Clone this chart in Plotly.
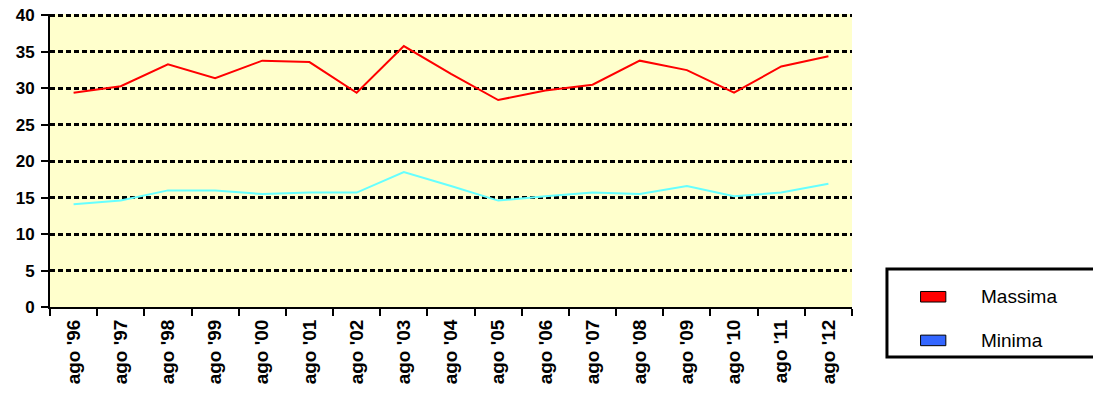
import plotly.graph_objects as go

categories = ["ago '96", "ago '97", "ago '98", "ago '99", "ago '00", "ago '01", "ago '02",
              "ago '03", "ago '04", "ago '05", "ago '06", "ago '07", "ago '08", "ago '09",
              "ago '10", "ago '11", "ago '12"]
massima = [29.4, 30.3, 33.3, 31.4, 33.8, 33.6, 29.4, 35.8, 32.0, 28.4, 29.7,
           30.5, 33.8, 32.5, 29.4, 33.0, 34.4]
minima = [14.1, 14.6, 16.0, 16.0, 15.5, 15.7, 15.7, 18.5, 16.6, 14.6, 15.2,
          15.7, 15.5, 16.6, 15.2, 15.7, 16.9]
y_ticks = [0, 5, 10, 15, 20, 25, 30, 35, 40]
legend_names = ["Massima", "Minima"]
legend_colors = ["#FF0000", "#3366FF"]

fig = go.Figure()
fig.add_trace(go.Scatter(x=categories, y=massima, mode="lines", name="Massima",
                         line=dict(color="#FF0000", width=2), showlegend=False))
fig.add_trace(go.Scatter(x=categories, y=minima, mode="lines", name="Minima",
                         line=dict(color="#66FFFF", width=2), showlegend=False))

FONT = "Liberation Sans, Arial, sans-serif"

fig.update_layout(
    width=1093, height=403,
    margin=dict(l=50, r=241, t=13.5, b=96, pad=0),
    paper_bgcolor="white",
    plot_bgcolor="#FFFFCC",
    font=dict(family=FONT, color="black"),
    showlegend=False,
)
fig.update_xaxes(
    type="category", range=[-0.5, len(categories) - 0.5], automargin=False,
    showline=True, linecolor="black", linewidth=2,
    ticks="outside", ticklen=7, tickwidth=2, tickcolor="black",
    tickson="boundaries", showgrid=False,
    tickangle=-90, tickfont=dict(family=FONT, size=19, color="black", weight="bold"),
    ticklabelstandoff=3, ticklabeloverflow="allow",
)
fig.update_yaxes(
    range=[0, 40.2], tickvals=y_ticks, automargin=False,
    showline=True, linecolor="black", linewidth=2,
    ticks="outside", ticklen=7, tickwidth=2, tickcolor="black",
    showgrid=True, gridcolor="black", gridwidth=3, griddash="5px,3px",
    zeroline=False,
    tickfont=dict(family=FONT, size=17, color="black", weight="bold"),
    ticklabelstandoff=3, ticklabeloverflow="allow",
)

# legend box (paper coordinates relative to plot area)
fig.add_shape(type="rect", xref="paper", yref="paper",
              x0=1.0436, x1=1.36, y0=-0.171, y1=0.130,
              line=dict(color="black", width=3), fillcolor="white", layer="above")
ys = [0.035, -0.114]
for name, col, yy in zip(legend_names, legend_colors, ys):
    fig.add_shape(type="rect", xref="paper", yref="paper",
                  x0=1.0855, x1=1.117, y0=yy - 0.018, y1=yy + 0.018,
                  line=dict(color="black", width=1), fillcolor=col, layer="above")
    fig.add_annotation(xref="paper", yref="paper", x=1.158, y=yy, text=name,
                       showarrow=False, xanchor="left", yanchor="middle",
                       font=dict(family=FONT, size=19, color="black"))

fig.write_html("out.html", config={"displayModeBar": False},
               post_script="document.body.style.margin='0';")
